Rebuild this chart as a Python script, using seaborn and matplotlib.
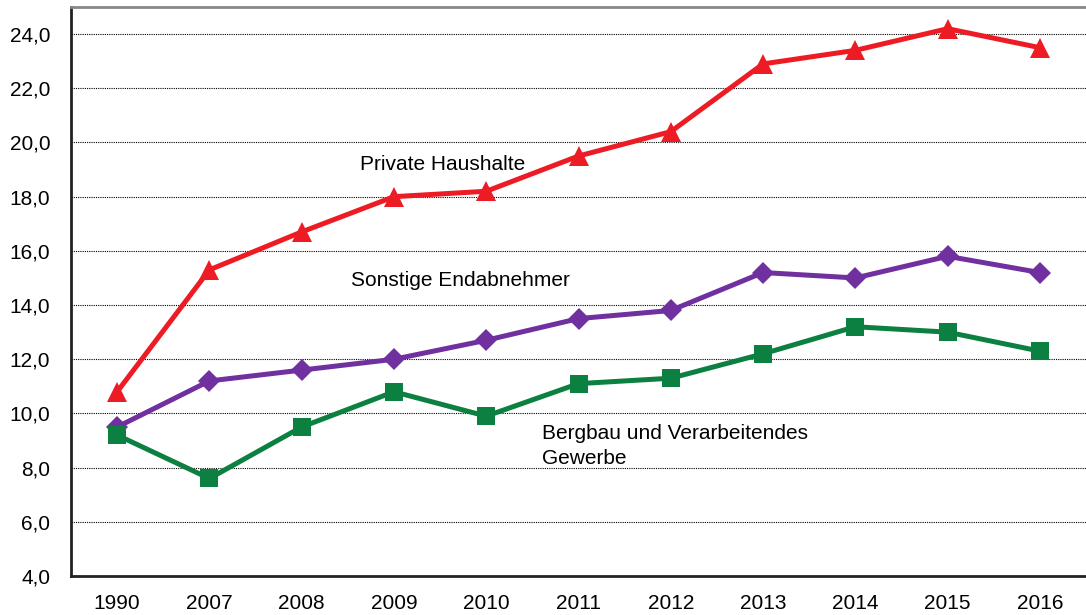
import matplotlib
matplotlib.use('Agg')
import matplotlib.pyplot as plt
import seaborn as sns
import numpy as np

# data
years = ['1990', '2007', '2008', '2009', '2010', '2011', '2012', '2013', '2014', '2015', '2016']
private = [10.8, 15.3, 16.7, 18.0, 18.2, 19.5, 20.4, 22.9, 23.4, 24.2, 23.5]
sonstige = [9.5, 11.2, 11.6, 12.0, 12.7, 13.5, 13.8, 15.2, 15.0, 15.8, 15.2]
bergbau = [9.2, 7.6, 9.5, 10.8, 9.9, 11.1, 11.3, 12.2, 13.2, 13.0, 12.3]

sns.set_style('white')
plt.rcParams['font.family'] = ['Liberation Sans', 'DejaVu Sans']
plt.rcParams['text.color'] = 'black'
plt.rcParams['xtick.color'] = 'black'
plt.rcParams['ytick.color'] = 'black'

fig = plt.figure(figsize=(10.86, 6.15), dpi=100)
ax = fig.add_axes([0.0654, 0.0634, 0.9346, 0.9252])

pos = np.arange(len(years))

sns.lineplot(x=pos, y=private, ax=ax, color='#ED1C24', lw=3.6, marker='^',
             markersize=14, markeredgewidth=0, zorder=3)
sns.lineplot(x=pos, y=sonstige, ax=ax, color='#7030A0', lw=3.6, marker='D',
             markersize=11, markeredgewidth=0, zorder=4)
sns.lineplot(x=pos, y=bergbau, ax=ax, color='#0B8040', lw=3.6, marker='s',
             markersize=13, markeredgewidth=0, zorder=5)

ax.set_ylim(4, 25)
ax.set_xlim(-0.5, 10.41)
ax.set_yticks(np.arange(4, 25, 2))
ax.set_yticklabels([f'{v:.1f}'.replace('.', ',') for v in np.arange(4, 25, 2)])

# tick marks between categories, labels centred
ax.set_xticks(np.arange(-0.5, 11, 1))
ax.set_xticklabels([])
ax.set_xticks(pos, minor=True)
ax.set_xticklabels(years, minor=True)
ax.tick_params(axis='x', which='major', length=6, width=1.2, color='black', direction='out')
ax.tick_params(axis='x', which='minor', length=0, pad=13, labelsize=15)
ax.tick_params(axis='y', length=6, width=1.2, color='black', direction='out', labelsize=15, pad=9)

ax.yaxis.grid(True, color='black', linestyle=(0, (1, 1)), linewidth=0.8)
ax.xaxis.grid(False)
ax.set_axisbelow(True)

ax.spines['left'].set_color('#222222')
ax.spines['left'].set_linewidth(2)
ax.spines['bottom'].set_color('#222222')
ax.spines['bottom'].set_linewidth(2)
ax.spines['top'].set_color('#888888')
ax.spines['top'].set_linewidth(2)
ax.spines['right'].set_visible(False)

ax.text(2.63, 19.17, 'Private Haushalte', fontsize=15, va='center', ha='left')
ax.text(2.53, 14.89, 'Sonstige Endabnehmer', fontsize=15, va='center', ha='left')
ax.text(4.60, 8.8, 'Bergbau und Verarbeitendes\nGewerbe', fontsize=15, va='center', ha='left',
        linespacing=1.4)

fig.savefig('out.png', dpi=100)
